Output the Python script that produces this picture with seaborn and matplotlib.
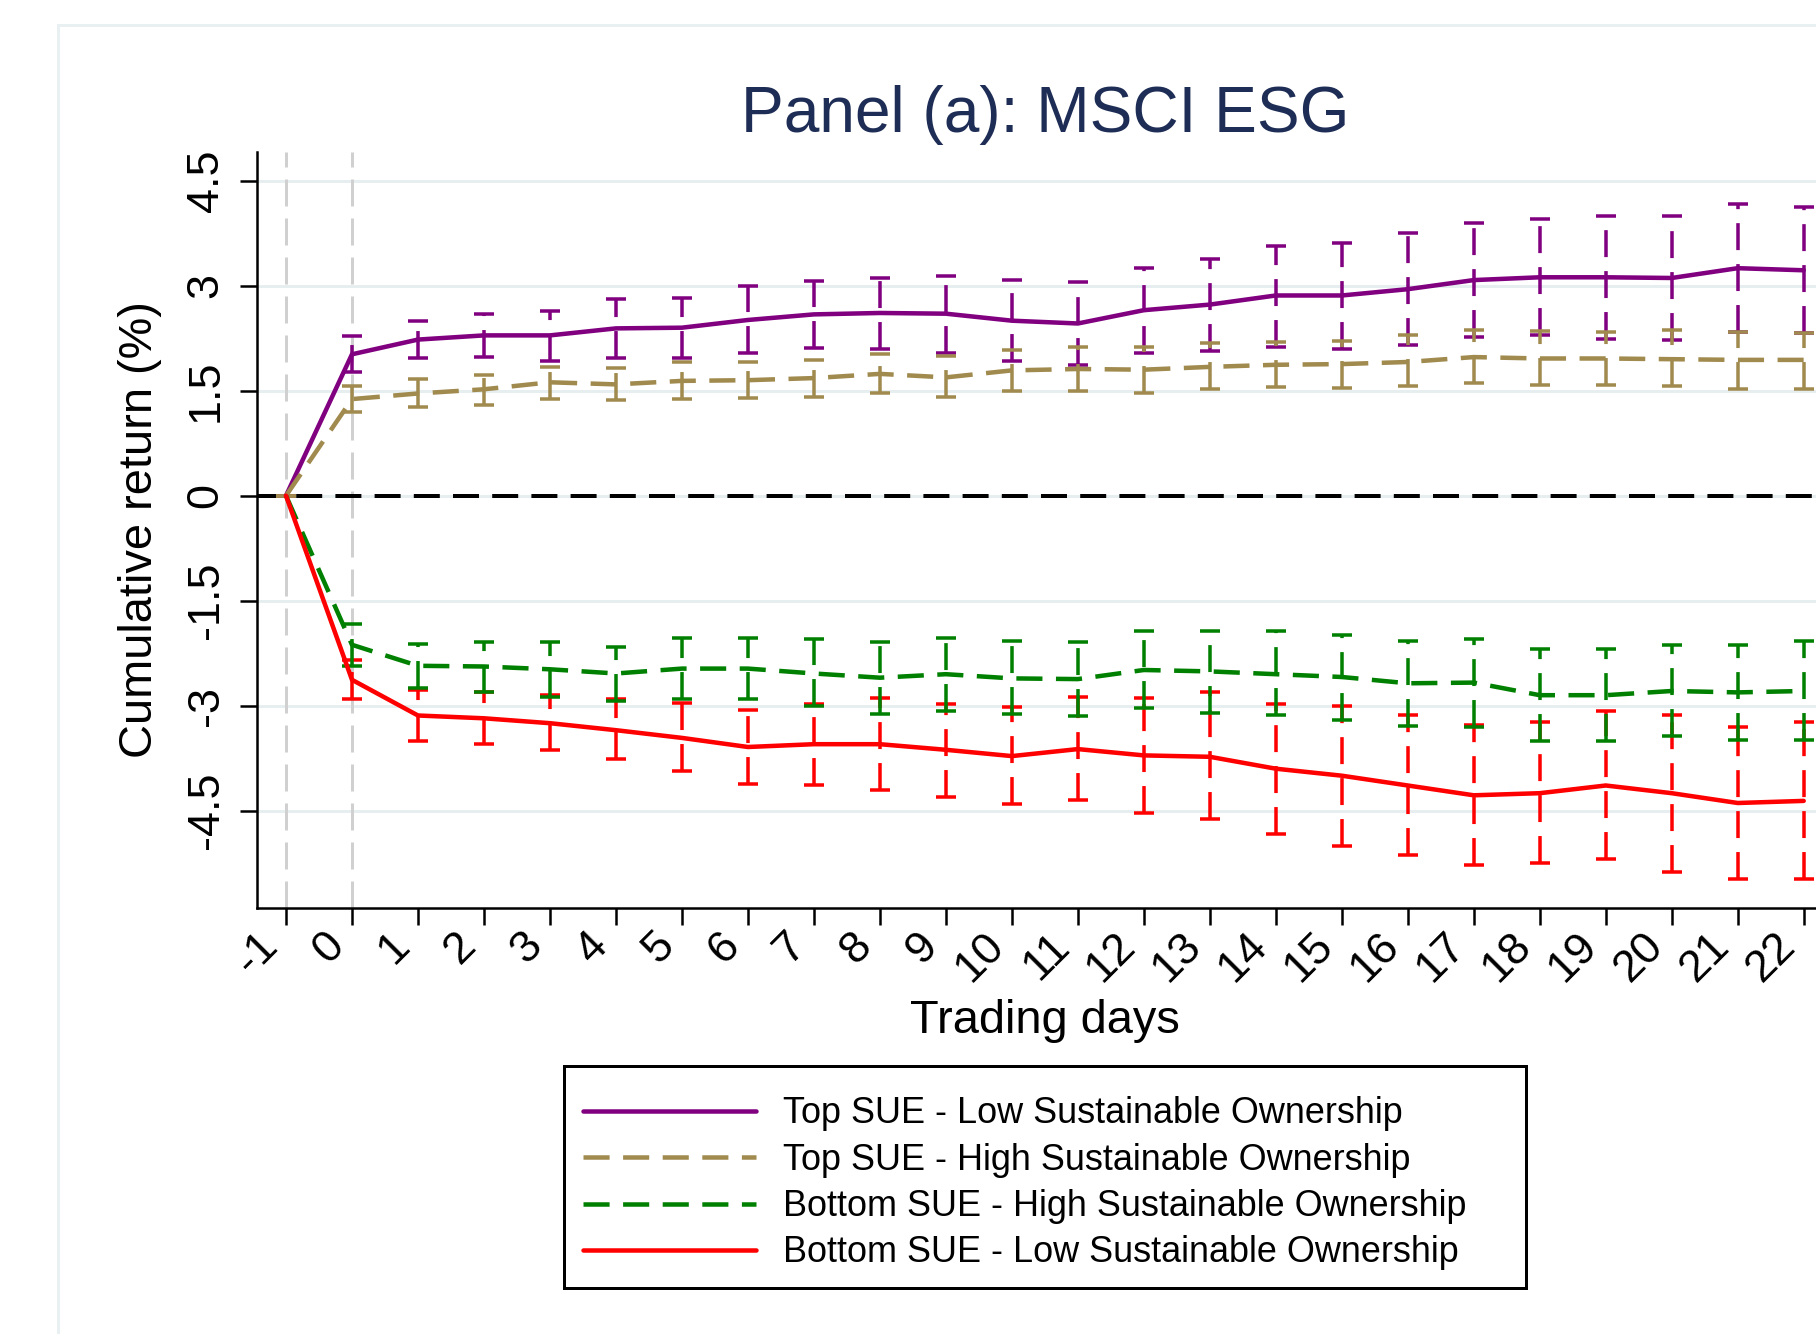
import matplotlib
matplotlib.use("Agg")
import matplotlib.pyplot as plt
from matplotlib.patches import Rectangle
import numpy as np
import pandas as pd
import seaborn as sns

# ── DATA ──────────────────────────────────────────────────────────
days = list(range(-1, 23))

groups = [
    'Top SUE - Low Sustainable Ownership',
    'Top SUE - High Sustainable Ownership',
    'Bottom SUE - High Sustainable Ownership',
    'Bottom SUE - Low Sustainable Ownership',
]

top_low_ret = [0, 2.02, 2.23, 2.29, 2.29, 2.39, 2.40, 2.51, 2.59, 2.61, 2.60, 2.50,
               2.46, 2.65, 2.73, 2.86, 2.86, 2.95, 3.08, 3.12, 3.12, 3.11, 3.25, 3.22]
top_low_hi = [0, 2.28, 2.49, 2.59, 2.64, 2.81, 2.83, 2.99, 3.06, 3.11, 3.14, 3.08,
              3.05, 3.25, 3.38, 3.57, 3.61, 3.75, 3.90, 3.95, 4.00, 4.00, 4.16, 4.13]
top_low_lo = [0, 1.76, 1.96, 1.98, 1.92, 1.97, 1.96, 2.04, 2.11, 2.09, 2.04, 1.93,
              1.87, 2.04, 2.07, 2.13, 2.09, 2.15, 2.26, 2.29, 2.24, 2.22, 2.34, 2.33]

top_high_ret = [0, 1.38, 1.46, 1.52, 1.62, 1.59, 1.64, 1.65, 1.68, 1.74, 1.69, 1.79,
                1.81, 1.80, 1.84, 1.87, 1.88, 1.91, 1.98, 1.96, 1.96, 1.95, 1.94, 1.94]
top_high_hi = [0, 1.56, 1.66, 1.72, 1.84, 1.82, 1.91, 1.91, 1.94, 2.02, 1.99, 2.08,
               2.12, 2.13, 2.18, 2.19, 2.21, 2.30, 2.36, 2.35, 2.34, 2.36, 2.34, 2.33]
top_high_lo = [0, 1.19, 1.26, 1.30, 1.38, 1.36, 1.38, 1.39, 1.41, 1.46, 1.41, 1.49,
               1.50, 1.46, 1.53, 1.55, 1.54, 1.56, 1.61, 1.58, 1.58, 1.56, 1.53, 1.52]

bot_high_ret = [0, -2.13, -2.43, -2.44, -2.48, -2.54, -2.47, -2.47, -2.54, -2.60, -2.55, -2.61,
                -2.62, -2.49, -2.51, -2.55, -2.59, -2.68, -2.67, -2.85, -2.85, -2.79, -2.81, -2.79]
bot_high_hi = [0, -1.83, -2.12, -2.09, -2.09, -2.16, -2.04, -2.04, -2.05, -2.09, -2.03, -2.08,
               -2.09, -1.94, -1.93, -1.94, -1.99, -2.08, -2.05, -2.19, -2.19, -2.13, -2.13, -2.07]
bot_high_lo = [0, -2.43, -2.75, -2.81, -2.87, -2.93, -2.90, -2.90, -3.00, -3.12, -3.07, -3.12,
               -3.15, -3.03, -3.10, -3.13, -3.20, -3.29, -3.30, -3.51, -3.50, -3.44, -3.49, -3.49]

bot_low_ret = [0, -2.63, -3.14, -3.18, -3.25, -3.35, -3.46, -3.59, -3.55, -3.55, -3.63, -3.72,
               -3.62, -3.71, -3.73, -3.90, -4.00, -4.14, -4.28, -4.25, -4.14, -4.25, -4.39, -4.36]
bot_low_hi = [0, -2.35, -2.78, -2.81, -2.85, -2.91, -2.96, -3.06, -2.98, -2.89, -2.98, -3.02,
              -2.87, -2.89, -2.81, -2.97, -3.00, -3.14, -3.28, -3.24, -3.07, -3.14, -3.31, -3.24]
bot_low_lo = [0, -2.91, -3.50, -3.55, -3.64, -3.76, -3.94, -4.12, -4.13, -4.20, -4.30, -4.41,
              -4.35, -4.53, -4.62, -4.83, -5.00, -5.14, -5.28, -5.25, -5.19, -5.37, -5.47, -5.48]

y_ticks = [-4.5, -3, -1.5, 0, 1.5, 3, 4.5]
y_tick_labels = ['-4.5', '-3', '-1.5', '0', '1.5', '3', '4.5']
x_tick_labels = [str(d) for d in days]

colors = {
    groups[0]: '#800080',
    groups[1]: '#a08a4e',
    groups[2]: '#008000',
    groups[3]: '#ff0000',
}
dash_styles = {
    groups[0]: '',
    groups[1]: (5.8, 3),
    groups[2]: (5.8, 3),
    groups[3]: '',
}

W, H, DPI = 1816, 1334, 72


# ── STEP 1: LONG TABLE FOR SEABORN ────────────────────────────────
def build_frame():
    rets = [top_low_ret, top_high_ret, bot_high_ret, bot_low_ret]
    his = [top_low_hi, top_high_hi, bot_high_hi, bot_low_hi]
    los = [top_low_lo, top_high_lo, bot_high_lo, bot_low_lo]
    parts = []
    for g, r, h, l in zip(groups, rets, his, los):
        parts.append(pd.DataFrame({'day': days, 'ret': r, 'hi': h, 'lo': l, 'group': g}))
    return pd.concat(parts, ignore_index=True)


# ── STEP 2: DRAW ──────────────────────────────────────────────────
def draw(df):
    sns.set_style("white")
    plt.rcParams['font.family'] = ['Liberation Sans', 'DejaVu Sans']
    plt.rcParams['text.color'] = 'black'
    plt.rcParams['xtick.color'] = 'black'
    plt.rcParams['ytick.color'] = 'black'

    fig = plt.figure(figsize=(W / DPI, H / DPI), dpi=DPI)

    # light outer frame (Stata graph region)
    fig.patches.append(Rectangle((58 / W, -0.1), 1.2, 1.1 - 25 / H,
                                 transform=fig.transFigure, fill=False,
                                 edgecolor='#e8f0f2', lw=3))

    left, right, top, bottom = 256.7, 1833, 151.7, 908
    ax = fig.add_axes([left / W, 1 - bottom / H, (right - left) / W, (bottom - top) / H])

    # reference lines
    ax.yaxis.grid(True, color='#e6eef0', lw=3)
    ax.set_axisbelow(True)
    for d in [-1, 0]:
        ax.axvline(d, color='#d0d0d0', lw=3, linestyle=(0, (9, 4)), zorder=1)
    ax.axhline(0, color='black', lw=4, linestyle=(0, (6.5, 3.3)), zorder=1.5)

    # confidence intervals as dashed capped spikes
    for g in [groups[3], groups[2], groups[0], groups[1]]:
        sub = df[df['group'] == g]
        eb = ax.errorbar(sub['day'], sub['ret'],
                         yerr=[sub['ret'] - sub['lo'], sub['hi'] - sub['ret']],
                         fmt='none', ecolor=colors[g], elinewidth=3.5,
                         capsize=10, capthick=3.5, zorder=2)
        eb[2][0].set_linestyle((0, (7.7, 4)))

    sns.lineplot(data=df, x='day', y='ret', hue='group', style='group',
                 hue_order=groups, style_order=groups, palette=colors,
                 dashes=dash_styles, linewidth=4.5, sort=False,
                 estimator=None, ax=ax, zorder=3)

    ax.set_xlim(-1.444, 22.444)
    ax.set_ylim(-5.89, 4.914)
    ax.set_xticks(days)
    ax.set_xticklabels(x_tick_labels)
    ax.set_yticks(y_ticks)
    ax.set_yticklabels(y_tick_labels)

    ax.tick_params(axis='both', which='major', bottom=True, left=True,
                   length=17, width=2.5, color='black', labelcolor='black',
                   labelsize=45, direction='out')
    ax.tick_params(axis='y', pad=13)
    ax.tick_params(axis='x', pad=0)
    plt.setp(ax.get_yticklabels(), rotation=90, va='center', ha='right')
    plt.setp(ax.get_xticklabels(), rotation=45, ha='right', va='top')

    for s in ['top', 'right']:
        ax.spines[s].set_visible(False)
    for s in ['left', 'bottom']:
        ax.spines[s].set_color('black')
        ax.spines[s].set_linewidth(2.5)

    ax.set_xlabel('')
    ax.set_ylabel('')
    ax.set_title('Panel (a): MSCI ESG', fontsize=64, color='#1e2d55', pad=20)
    ax.text(0.5, -0.1653, 'Trading days', transform=ax.transAxes,
            ha='center', va='baseline', fontsize=47, color='black')
    ax.text((151.7 - left) / (right - left), 0.5, 'Cumulative return (%)',
            transform=ax.transAxes, rotation=90, rotation_mode='anchor',
            ha='center', va='baseline', fontsize=47, color='black')

    # legend below the plot, boxed separately so the entries sit like Stata's
    old = ax.get_legend()
    handles = list(old.legend_handles)
    labels = [t.get_text() for t in old.get_texts()]
    old.remove()
    for h in handles:
        h.set_linewidth(4.5)
    ax.legend(handles, labels, loc='upper left',
              bbox_to_anchor=(559 / W, 1 - 1072 / H, (1526 - 564) / W, 0.0),
              bbox_transform=fig.transFigure, mode='expand',
              borderaxespad=0, fontsize=36, handlelength=4.8,
              handletextpad=0.745, labelspacing=0.315, borderpad=0.68,
              frameon=False, labelcolor='black')
    fig.patches.append(Rectangle((564 / W, 1 - 1288 / H), (1526 - 564) / W,
                                 (1288 - 1066) / H, transform=fig.transFigure,
                                 fill=False, edgecolor='black', lw=3))

    fig.savefig('out.png', dpi=DPI)


if __name__ == '__main__':
    draw(build_frame())
